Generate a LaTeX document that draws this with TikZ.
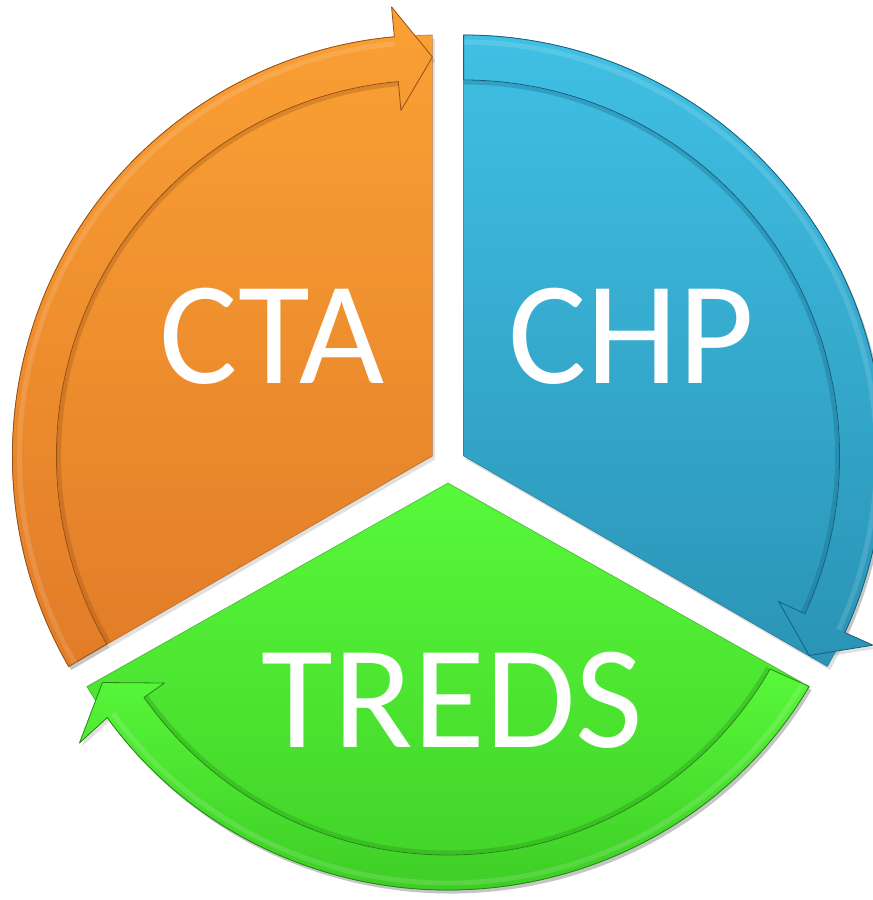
\documentclass[tikz,border=0pt]{standalone}
\usepackage{fontspec}
\setmainfont{Carlito}
\definecolor{otop}{RGB}{250,160,52}
\definecolor{obot}{RGB}{226,124,40}
\definecolor{oedge}{RGB}{150,80,20}
\definecolor{btop}{RGB}{64,192,228}
\definecolor{bbot}{RGB}{42,148,182}
\definecolor{bedge}{RGB}{22,95,125}
\definecolor{gtop}{RGB}{88,248,58}
\definecolor{gbot}{RGB}{62,205,38}
\definecolor{gedge}{RGB}{38,135,22}
\tikzset{
  segtext/.style={text=white, font=\fontsize{147}{150}\selectfont, anchor=base, inner sep=0pt},
}
% #1 cx, #2 cy, #3 start angle, #4 arrow-end angle, #5 top, #6 bottom, #7 edge,
% #8 outer x radius, #9 outer y radius; \rin = inner radius of the band
\newcommand\segpiece[9]{%
\begin{scope}[shift={(#1,#2)}]
  \pgfmathsetmacro\ab{#4+5.2}
  % soft shadow
  \fill[black,opacity=0.12,shift={(2.5,-3.5)}] (0,0) -- (#3:#8 and #9) arc[start angle=#3,end angle=#4,x radius=#8,y radius=#9] -- cycle;
  \fill[black,opacity=0.12,shift={(2.5,-3.5)}] (#3:#8 and #9) arc[start angle=#3,end angle=\ab,x radius=#8,y radius=#9] -- (\ab:451) -- (#4:399) -- (\ab:347) -- (\ab:\rin) arc[start angle=\ab,end angle=#3,radius=\rin] -- cycle;
  % wedge
  \shade[top color=#5,bottom color=#6,draw=#7,draw opacity=0.6,line width=0.6pt] (0,0) -- (#3:#8 and #9) arc[start angle=#3,end angle=#4,x radius=#8,y radius=#9] -- cycle;
  % inner shadow along the band
  \draw[#7,opacity=0.3,line width=4pt] (#3:\rin-2.5) arc[start angle=#3,end angle=\ab,radius=\rin-2.5];
  % circular arrow band
  \shade[top color=#5,bottom color=#6,draw=#7,line width=0.8pt,line join=round]
    (#3:#8 and #9) arc[start angle=#3,end angle=\ab,x radius=#8,y radius=#9] -- (\ab:451) -- (#4:399) -- (\ab:347) -- (\ab:\rin) arc[start angle=\ab,end angle=#3,radius=\rin] -- cycle;
  % bevel highlight near the outer rim
  \draw[white,opacity=0.13,line width=5pt] (#3:#8-7 and #9-7) arc[start angle=#3,end angle=\ab,x radius=#8-7,y radius=#9-7];
\end{scope}}
\begin{document}
\begin{tikzpicture}[x=1pt,y=1pt]
  \useasboundingbox (0,-900) rectangle (873,0);
  % orange segment (CTA)
  \def\rin{376}
  \segpiece{432.4}{-456}{210}{90}{otop}{obot}{oedge}{420}{421}
  % blue segment (CHP)
  \segpiece{463.6}{-456}{90}{-30}{btop}{bbot}{bedge}{420}{421}
  % green segment (TREDS)
  \def\rin{372}
  \segpiece{448}{-483}{330}{210}{gtop}{gbot}{gedge}{417}{407}
  \node[segtext] (cta) at (272,-383) {CTA};
  \node[segtext] (chp) at (631.5,-383) {CHP};
  \node[segtext] (treds) at (452.5,-747) {TREDS};
\end{tikzpicture}
\end{document}
